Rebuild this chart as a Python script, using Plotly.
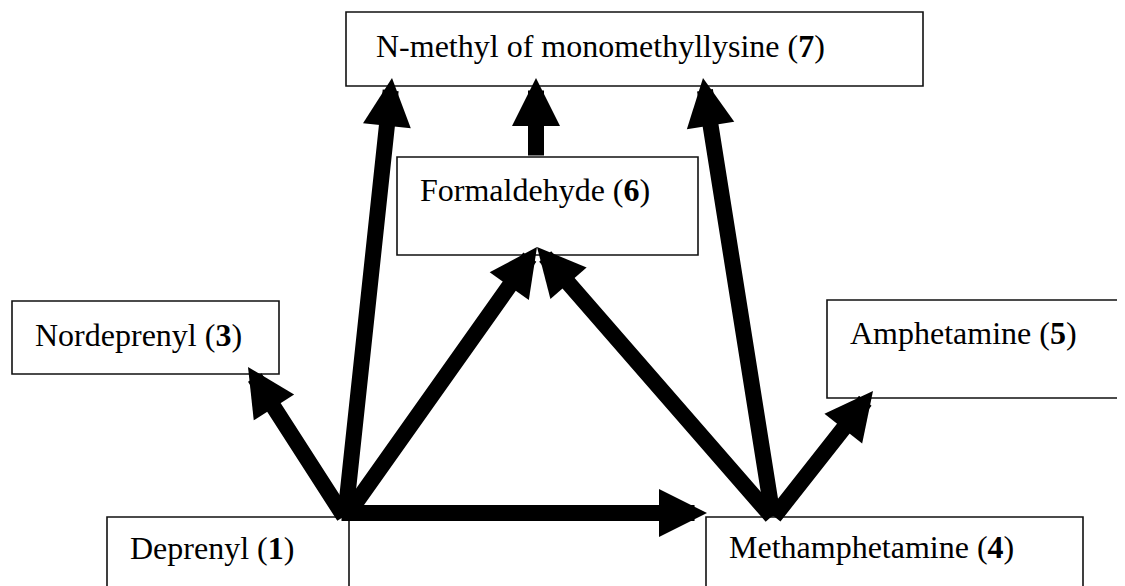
import plotly.graph_objects as go

# ---- diagram content ----
node_ids = ["7", "6", "3", "1", "5", "4"]
node_names = ["N-methyl of monomethyllysine", "Formaldehyde", "Nordeprenyl",
              "Deprenyl", "Amphetamine", "Methamphetamine"]
edge_src = ["1", "1", "1", "1", "4", "4", "4", "6"]
edge_dst = ["3", "7", "6", "4", "7", "6", "5", "7"]

# ---- layout (pixel coordinates) ----
box_pos = {  # x0, y0, x1, y1
    "7": (346, 12, 923, 86),
    "6": (397, 157, 698, 255),
    "3": (12, 301, 279, 374),
    "1": (107, 517, 349, 600),
    "5": (827, 300, 1140, 398),
    "4": (706, 517, 1083, 600),
}
text_pos = {"7": (374, 46), "6": (418, 190), "3": (33, 335),
            "1": (128, 548), "5": (848, 333), "4": (727, 547)}
edge_tail = {("1", "3"): (345, 518), ("1", "7"): (345, 518), ("1", "6"): (345, 518),
             ("1", "4"): (340, 513), ("4", "7"): (773, 518), ("4", "6"): (773, 518),
             ("4", "5"): (773, 518), ("6", "7"): (536, 157)}
edge_tip = {("1", "3"): (248, 367), ("1", "7"): (392, 78), ("1", "6"): (537, 247),
            ("1", "4"): (707, 513), ("4", "7"): (703, 78), ("4", "6"): (537, 247),
            ("4", "5"): (873, 391), ("6", "7"): (536, 78)}

FONT = "Liberation Serif, Times New Roman, serif"
OFF = 8  # page body margin

fig = go.Figure()
fig.add_trace(go.Scatter(x=[OFF, 1125], y=[OFF, 586], mode="markers",
                         marker=dict(opacity=0), hoverinfo="skip", showlegend=False))

for nid, name in zip(node_ids, node_names):
    x0, y0, x1, y1 = box_pos[nid]
    fig.add_shape(type="rect", x0=x0, y0=y0, x1=x1, y1=y1,
                  line=dict(color="#111111", width=1.6), fillcolor="white", layer="below")
    tx, ty = text_pos[nid]
    fig.add_annotation(x=tx, y=ty, text=f"{name} (<b>{nid}</b>)", showarrow=False,
                       xanchor="left", yanchor="middle",
                       font=dict(family=FONT, size=32, color="black"))

for s, d in zip(edge_src, edge_dst):
    tx, ty = edge_tail[(s, d)]
    hx, hy = edge_tip[(s, d)]
    fig.add_annotation(x=hx, y=hy, ax=tx, ay=ty, axref="x", ayref="y",
                       text="", showarrow=True, arrowhead=2, arrowsize=0.6,
                       arrowwidth=16, arrowcolor="black", standoff=0)

fig.update_xaxes(range=[OFF, 1125 + OFF], visible=False, fixedrange=True)
fig.update_yaxes(range=[586 + OFF, OFF], visible=False, fixedrange=True)
fig.update_layout(width=1125, height=586, margin=dict(l=0, r=0, t=0, b=0),
                  paper_bgcolor="white", plot_bgcolor="white", showlegend=False)
fig.write_html("out.html")
